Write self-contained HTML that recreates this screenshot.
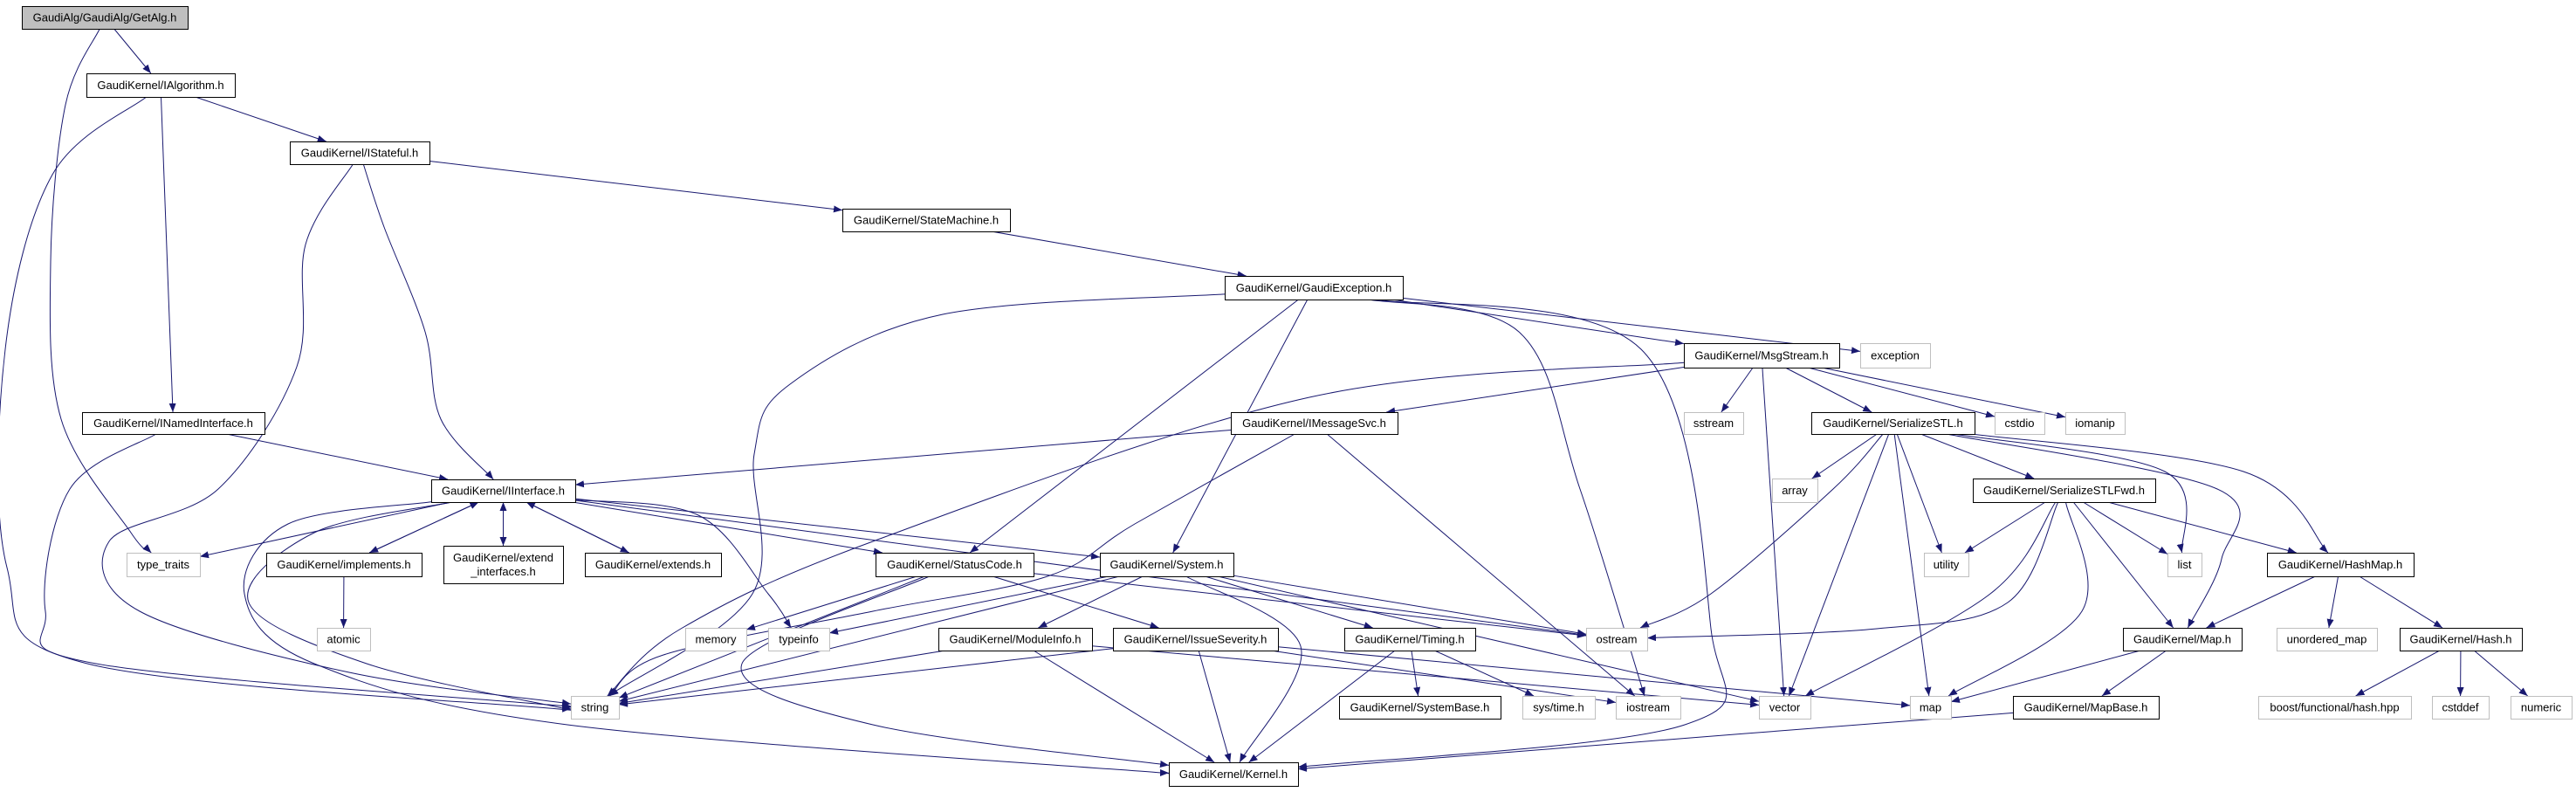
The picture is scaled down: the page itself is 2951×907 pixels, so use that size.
<!DOCTYPE html>
<html><head><meta charset="utf-8">
<style>
html,body{margin:0;padding:0;background:#fff;}
svg{display:block;}
text{font-family:"Liberation Sans",sans-serif;font-size:13px;fill:#000;}
</style></head>
<body>
<svg id="g" width="2951" height="907" viewBox="0 0 2951 907" xmlns="http://www.w3.org/2000/svg">
<defs>
<marker id="ah" markerUnits="userSpaceOnUse" markerWidth="11" markerHeight="8" refX="10" refY="4" orient="auto">
<path d="M0,0 L10,4 L0,8 z" fill="#191970"/>
</marker>
</defs>
<g id="edges"></g>
<g id="nodes"></g>
</svg>
<script>
var N={
GetAlg:[25,7,215,33,"GaudiAlg/GaudiAlg/GetAlg.h",2],
IAlg:[99,84,269,111,"GaudiKernel/IAlgorithm.h"],
IStateful:[332,162,492,188,"GaudiKernel/IStateful.h"],
SM:[965,239,1157,265,"GaudiKernel/StateMachine.h"],
GE:[1403,316,1607,343,"GaudiKernel/GaudiException.h"],
MS:[1929,393,2107,421,"GaudiKernel/MsgStream.h"],
exc:[2131,393,2211,421,"exception",1],
INI:[94,472,303,497,"GaudiKernel/INamedInterface.h"],
IMS:[1410,472,1601,497,"GaudiKernel/IMessageSvc.h"],
sstream:[1929,472,1997,497,"sstream",1],
SSTL:[2075,472,2262,497,"GaudiKernel/SerializeSTL.h"],
cstdio:[2285,472,2342,497,"cstdio",1],
iomanip:[2366,472,2434,497,"iomanip",1],
II:[494,549,659,575,"GaudiKernel/IInterface.h"],
array:[2030,548,2082,575,"array",1],
SFwd:[2260,548,2469,575,"GaudiKernel/SerializeSTLFwd.h"],
tt:[145,633,229,660,"type_traits",1],
impl:[305,633,483,660,"GaudiKernel/implements.h"],
ext_i:[508,625,645,668,"GaudiKernel/extend|_interfaces.h"],
ext:[670,633,826,660,"GaudiKernel/extends.h"],
SC:[1003,633,1184,660,"GaudiKernel/StatusCode.h"],
Sys:[1260,633,1413,660,"GaudiKernel/System.h"],
utility:[2204,633,2255,660,"utility",1],
list:[2483,633,2522,660,"list",1],
HM:[2597,633,2765,660,"GaudiKernel/HashMap.h"],
atomic:[363,719,424,745,"atomic",1],
memory:[785,719,855,745,"memory",1],
typeinfo:[880,719,950,745,"typeinfo",1],
MI:[1075,719,1251,745,"GaudiKernel/ModuleInfo.h"],
IS:[1275,719,1464,745,"GaudiKernel/IssueSeverity.h"],
Tim:[1540,719,1690,745,"GaudiKernel/Timing.h"],
ostream:[1817,719,1887,745,"ostream",1],
Map:[2432,719,2568,745,"GaudiKernel/Map.h"],
umap:[2608,719,2723,745,"unordered_map",1],
Hash:[2749,719,2889,745,"GaudiKernel/Hash.h"],
string:[654,797,709,823,"string",1],
SB:[1534,797,1719,823,"GaudiKernel/SystemBase.h"],
systime:[1744,797,1827,823,"sys/time.h",1],
iostream:[1851,797,1925,823,"iostream",1],
vector:[2015,797,2074,823,"vector",1],
map:[2188,797,2235,823,"map",1],
MB:[2306,797,2473,823,"GaudiKernel/MapBase.h"],
boost:[2587,797,2762,823,"boost/functional/hash.hpp",1],
cstddef:[2786,797,2851,823,"cstddef",1],
numeric:[2876,797,2946,823,"numeric",1],
Kernel:[1339,873,1487,900,"GaudiKernel/Kernel.h"]
};
var E=[
["GetAlg","IAlg"],
["GetAlg","tt",[[75,120],[58,300],[70,480],[150,610]]],
["IAlg","IStateful"],
["IAlg","INI"],
["IAlg","string",[[60,200],[6,400],[8,650],[100,760],[640,812]]],
["IStateful","SM"],
["IStateful","II",[[440,260],[487,380],[505,480]]],
["IStateful","string",[[350,280],[340,420],[250,560],[125,620],[160,700],[400,770]]],
["SM","GE"],
["INI","II"],
["INI","string",[[80,560],[52,700],[110,760],[640,808]]],
["GE","string",[[1080,360],[905,440],[864,520],[862,680],[700,795]]],
["GE","SC"],
["GE","Sys"],
["GE","MS"],
["GE","exc"],
["GE","iostream",[[1740,380],[1810,560]]],
["GE","Kernel",[[1880,400],[1960,720],[1930,830]]],
["MS","IMS"],
["MS","string",[[1500,455],[1000,620],[780,720]]],
["MS","sstream"],
["MS","vector"],
["MS","SSTL"],
["MS","cstdio"],
["MS","iomanip"],
["IMS","II"],
["IMS","string",[[1300,600],[1200,660],[1000,700],[760,750]]],
["IMS","iostream"],
["II","tt"],
["II","impl"],
["impl","II"],
["II","ext_i"],
["ext_i","II"],
["II","ext"],
["ext","II"],
["II","SC"],
["II","Sys"],
["II","ostream"],
["II","typeinfo",[[800,590],[880,680]]],
["II","string",[[360,610],[285,690],[420,760],[640,810]]],
["II","Kernel",[[330,600],[280,680],[360,760],[650,830],[1330,885]]],
["impl","atomic"],
["SC","memory"],
["SC","string"],
["SC","IS"],
["SC","ostream"],
["SC","Kernel",[[850,760],[1000,830]]],
["Sys","typeinfo"],
["Sys","string"],
["Sys","MI"],
["Sys","Tim"],
["Sys","Kernel",[[1490,740]]],
["Sys","vector"],
["Sys","ostream"],
["MI","string"],
["MI","Kernel"],
["MI","vector"],
["IS","string"],
["IS","Kernel"],
["IS","map"],
["IS","iostream"],
["Tim","SB"],
["Tim","systime"],
["Tim","Kernel"],
["SSTL","ostream",[[2100,560],[1960,680]]],
["SSTL","array"],
["SSTL","vector"],
["SSTL","map"],
["SSTL","utility"],
["SSTL","SFwd"],
["SSTL","list",[[2480,540]]],
["SSTL","Map",[[2540,560],[2545,640]]],
["SSTL","HM",[[2570,540]]],
["SFwd","utility"],
["SFwd","ostream",[[2300,690],[2150,720]]],
["SFwd","vector",[[2280,680]]],
["SFwd","map",[[2385,700]]],
["SFwd","Map"],
["SFwd","list"],
["SFwd","HM"],
["HM","Map"],
["HM","umap"],
["HM","Hash"],
["Map","map"],
["Map","MB"],
["MB","Kernel",[[2000,840]]],
["Hash","boost"],
["Hash","cstddef"],
["Hash","numeric"]
];
var NS="http://www.w3.org/2000/svg";
function el(t,a,p){var e=document.createElementNS(NS,t);for(var k in a)e.setAttribute(k,a[k]);p.appendChild(e);return e;}
function ctr(b){return [(b[0]+b[2])/2,(b[1]+b[3])/2];}
function clip(b,p){var c=ctr(b),hw=(b[2]-b[0])/2,hh=(b[3]-b[1])/2,dx=p[0]-c[0],dy=p[1]-c[1];
var t=Math.min(dx?hw/Math.abs(dx):1e9,dy?hh/Math.abs(dy):1e9);return [c[0]+dx*t,c[1]+dy*t];}
var eg=document.getElementById("edges"),ng=document.getElementById("nodes");
E.forEach(function(e){var s=N[e[0]],t=N[e[1]],w=e[2]||[];
var first=w.length?w[0]:ctr(t),last=w.length?w[w.length-1]:ctr(s);
var pts=[clip(s,first)].concat(w).concat([clip(t,last)]);
var d="M"+pts[0][0]+","+pts[0][1];
if(pts.length==2){d+=" L"+pts[1][0]+","+pts[1][1];}
else{for(var i=0;i<pts.length-1;i++){var p0=pts[i-1]||pts[i],p1=pts[i],p2=pts[i+1],p3=pts[i+2]||p2;
var c1=[p1[0]+(p2[0]-p0[0])/6,p1[1]+(p2[1]-p0[1])/6],c2=[p2[0]-(p3[0]-p1[0])/6,p2[1]-(p3[1]-p1[1])/6];
d+=" C"+c1[0]+","+c1[1]+" "+c2[0]+","+c2[1]+" "+p2[0]+","+p2[1];}}
el("path",{d:d,fill:"none",stroke:"#191970","stroke-width":1,"marker-end":"url(#ah)"},eg);});
for(var k in N){var b=N[k];
el("rect",{x:b[0]+0.5,y:b[1]+0.5,width:b[2]-b[0],height:b[3]-b[1],fill:b[5]==2?"#bfbfbf":"#fff",stroke:b[5]==1?"#bfbfbf":"#000","stroke-width":1},ng);
var lines=b[4].split("|"),c=ctr(b);
lines.forEach(function(l,i){var y=c[1]+4.5+(i-(lines.length-1)/2)*16;
var tx=el("text",{x:c[0],y:y,"text-anchor":"middle"},ng);tx.textContent=l;});}
</script>
</body></html>
